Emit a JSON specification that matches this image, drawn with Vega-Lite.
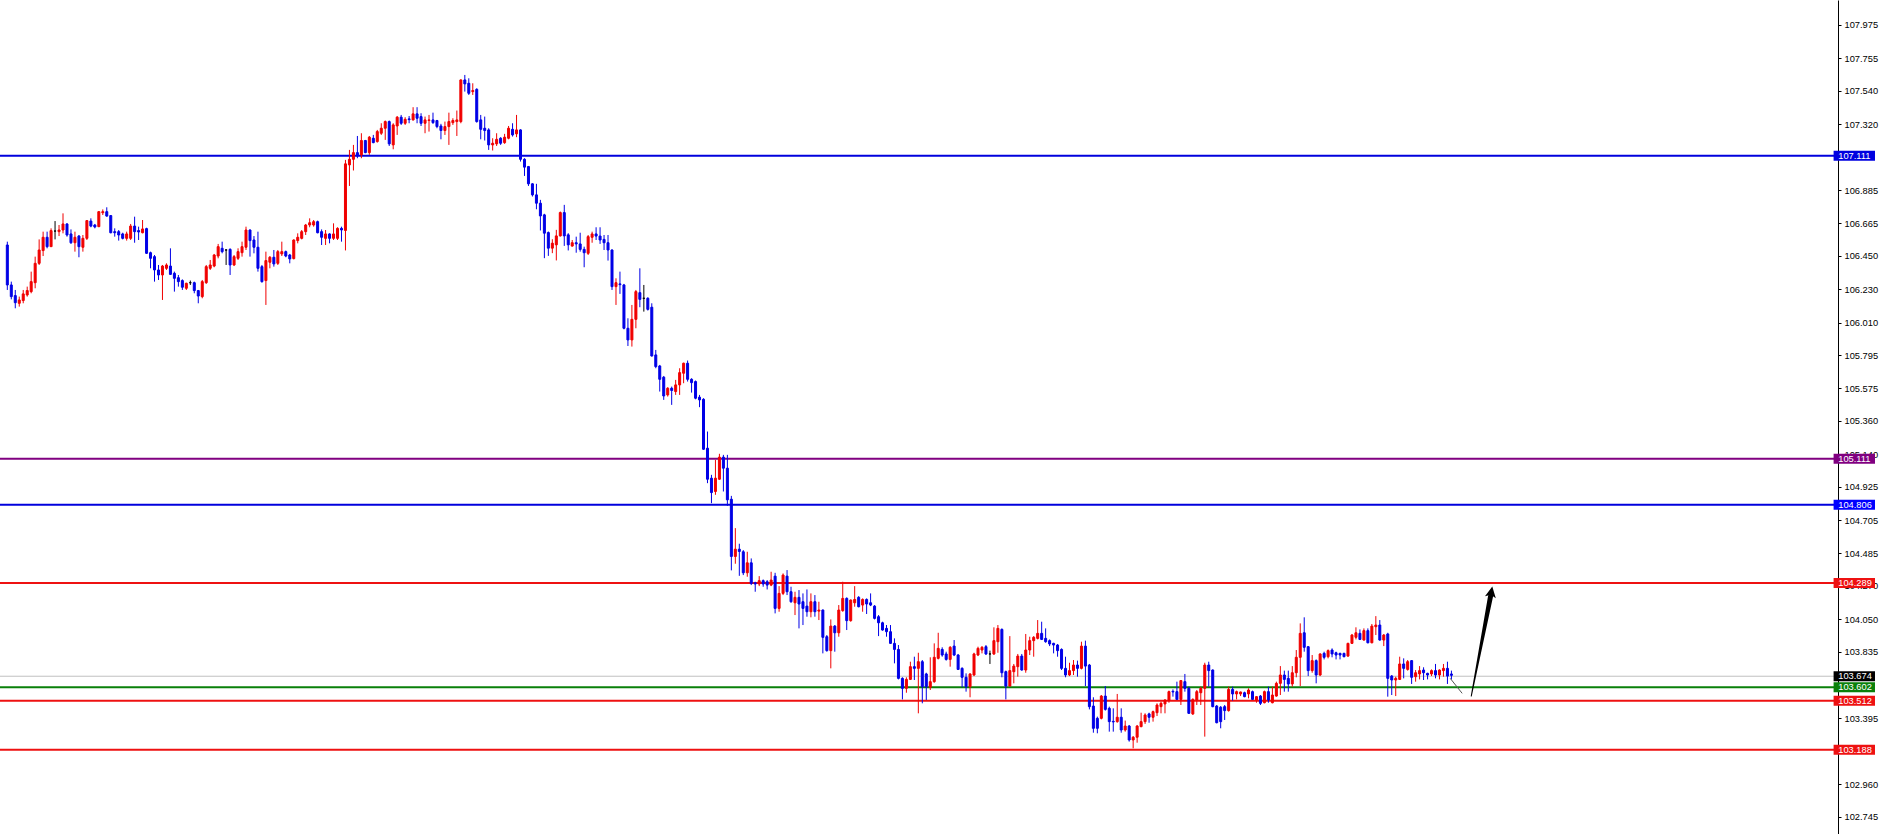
{
"$schema": "https://vega.github.io/schema/vega-lite/v6.json",
"width": 1838, "height": 834,
"autosize": {"type": "none"},
"padding": {"left": 0, "top": 0, "right": 42, "bottom": 0},
"background": "#ffffff",
"config": {"view": {"stroke": null},
"axisY": {"orient": "right", "title": null, "grid": false, "format": ".3f",
"labelFont": "Liberation Sans", "labelFontSize": 9.3, "labelColor": "#000000",
"tickColor": "#000000", "tickSize": 3, "labelPadding": 3, "domainColor": "#000000", "domainWidth": 1,
"labelOverlap": false, "labelFlush": false, "labelBound": false}},
"datasets": {
"candles": [
{"i":0,"o":106.522,"h":106.544,"l":106.225,"c":106.258},
{"i":1,"o":106.258,"h":106.280,"l":106.163,"c":106.181},
{"i":2,"o":106.188,"h":106.225,"l":106.104,"c":106.141},
{"i":3,"o":106.137,"h":106.181,"l":106.115,"c":106.159},
{"i":4,"o":106.155,"h":106.225,"l":106.137,"c":106.199},
{"i":5,"o":106.192,"h":106.247,"l":106.181,"c":106.221},
{"i":6,"o":106.214,"h":106.346,"l":106.203,"c":106.280},
{"i":7,"o":106.273,"h":106.445,"l":106.236,"c":106.401},
{"i":8,"o":106.401,"h":106.559,"l":106.390,"c":106.489},
{"i":9,"o":106.485,"h":106.610,"l":106.449,"c":106.573},
{"i":10,"o":106.573,"h":106.610,"l":106.500,"c":106.511},
{"i":11,"o":106.511,"h":106.632,"l":106.511,"c":106.617},
{"i":12,"o":106.614,"h":106.680,"l":106.559,"c":106.614},
{"i":13,"o":106.610,"h":106.654,"l":106.581,"c":106.621},
{"i":14,"o":106.621,"h":106.731,"l":106.599,"c":106.661},
{"i":15,"o":106.661,"h":106.665,"l":106.577,"c":106.588},
{"i":16,"o":106.595,"h":106.625,"l":106.529,"c":106.537},
{"i":17,"o":106.537,"h":106.610,"l":106.478,"c":106.573},
{"i":18,"o":106.581,"h":106.588,"l":106.441,"c":106.511},
{"i":19,"o":106.507,"h":106.588,"l":106.478,"c":106.566},
{"i":20,"o":106.566,"h":106.687,"l":106.555,"c":106.683},
{"i":21,"o":106.680,"h":106.698,"l":106.639,"c":106.647},
{"i":22,"o":106.654,"h":106.661,"l":106.632,"c":106.641},
{"i":23,"o":106.643,"h":106.745,"l":106.640,"c":106.742},
{"i":24,"o":106.735,"h":106.757,"l":106.720,"c":106.742},
{"i":25,"o":106.742,"h":106.771,"l":106.709,"c":106.713},
{"i":26,"o":106.716,"h":106.720,"l":106.599,"c":106.603},
{"i":27,"o":106.610,"h":106.632,"l":106.577,"c":106.603},
{"i":28,"o":106.610,"h":106.621,"l":106.551,"c":106.588},
{"i":29,"o":106.595,"h":106.603,"l":106.559,"c":106.566},
{"i":30,"o":106.566,"h":106.610,"l":106.551,"c":106.595},
{"i":31,"o":106.566,"h":106.661,"l":106.555,"c":106.647},
{"i":32,"o":106.647,"h":106.709,"l":106.537,"c":106.610},
{"i":33,"o":106.617,"h":106.643,"l":106.555,"c":106.608},
{"i":34,"o":106.603,"h":106.687,"l":106.599,"c":106.628},
{"i":35,"o":106.630,"h":106.636,"l":106.463,"c":106.467},
{"i":36,"o":106.471,"h":106.478,"l":106.368,"c":106.434},
{"i":37,"o":106.445,"h":106.456,"l":106.280,"c":106.357},
{"i":38,"o":106.357,"h":106.390,"l":106.291,"c":106.324},
{"i":39,"o":106.324,"h":106.390,"l":106.159,"c":106.383},
{"i":40,"o":106.368,"h":106.401,"l":106.357,"c":106.390},
{"i":41,"o":106.383,"h":106.500,"l":106.324,"c":106.328},
{"i":42,"o":106.335,"h":106.346,"l":106.214,"c":106.302},
{"i":43,"o":106.306,"h":106.324,"l":106.247,"c":106.280},
{"i":44,"o":106.287,"h":106.295,"l":106.225,"c":106.243},
{"i":45,"o":106.236,"h":106.273,"l":106.225,"c":106.269},
{"i":46,"o":106.273,"h":106.287,"l":106.258,"c":106.273},
{"i":47,"o":106.273,"h":106.280,"l":106.203,"c":106.221},
{"i":48,"o":106.221,"h":106.225,"l":106.137,"c":106.185},
{"i":49,"o":106.181,"h":106.291,"l":106.170,"c":106.280},
{"i":50,"o":106.273,"h":106.390,"l":106.265,"c":106.379},
{"i":51,"o":106.368,"h":106.423,"l":106.357,"c":106.390},
{"i":52,"o":106.383,"h":106.463,"l":106.375,"c":106.456},
{"i":53,"o":106.449,"h":106.529,"l":106.434,"c":106.511},
{"i":54,"o":106.500,"h":106.544,"l":106.467,"c":106.478},
{"i":55,"o":106.489,"h":106.493,"l":106.390,"c":106.489},
{"i":56,"o":106.493,"h":106.500,"l":106.324,"c":106.390},
{"i":57,"o":106.390,"h":106.456,"l":106.383,"c":106.445},
{"i":58,"o":106.434,"h":106.500,"l":106.423,"c":106.478},
{"i":59,"o":106.471,"h":106.544,"l":106.445,"c":106.511},
{"i":60,"o":106.507,"h":106.643,"l":106.489,"c":106.621},
{"i":61,"o":106.621,"h":106.625,"l":106.445,"c":106.551},
{"i":62,"o":106.555,"h":106.581,"l":106.467,"c":106.507},
{"i":63,"o":106.507,"h":106.610,"l":106.346,"c":106.368},
{"i":64,"o":106.379,"h":106.390,"l":106.273,"c":106.280},
{"i":65,"o":106.287,"h":106.478,"l":106.126,"c":106.419},
{"i":66,"o":106.408,"h":106.449,"l":106.368,"c":106.441},
{"i":67,"o":106.441,"h":106.489,"l":106.379,"c":106.397},
{"i":68,"o":106.401,"h":106.489,"l":106.390,"c":106.478},
{"i":69,"o":106.463,"h":106.544,"l":106.449,"c":106.478},
{"i":70,"o":106.478,"h":106.485,"l":106.441,"c":106.449},
{"i":71,"o":106.456,"h":106.463,"l":106.401,"c":106.430},
{"i":72,"o":106.432,"h":106.559,"l":106.427,"c":106.555},
{"i":73,"o":106.551,"h":106.599,"l":106.533,"c":106.573},
{"i":74,"o":106.566,"h":106.621,"l":106.559,"c":106.610},
{"i":75,"o":106.610,"h":106.661,"l":106.588,"c":106.654},
{"i":76,"o":106.654,"h":106.698,"l":106.639,"c":106.669},
{"i":77,"o":106.654,"h":106.687,"l":106.643,"c":106.676},
{"i":78,"o":106.676,"h":106.683,"l":106.599,"c":106.603},
{"i":79,"o":106.610,"h":106.625,"l":106.522,"c":106.573},
{"i":80,"o":106.566,"h":106.621,"l":106.522,"c":106.595},
{"i":81,"o":106.595,"h":106.599,"l":106.533,"c":106.566},
{"i":82,"o":106.566,"h":106.665,"l":106.555,"c":106.595},
{"i":83,"o":106.566,"h":106.639,"l":106.555,"c":106.632},
{"i":84,"o":106.632,"h":106.643,"l":106.544,"c":106.621},
{"i":85,"o":106.618,"h":107.084,"l":106.486,"c":107.058},
{"i":86,"o":107.051,"h":107.150,"l":106.912,"c":107.088},
{"i":87,"o":107.088,"h":107.183,"l":107.014,"c":107.132},
{"i":88,"o":107.132,"h":107.242,"l":107.095,"c":107.110},
{"i":89,"o":107.117,"h":107.260,"l":107.095,"c":107.212},
{"i":90,"o":107.212,"h":107.216,"l":107.128,"c":107.132},
{"i":91,"o":107.132,"h":107.242,"l":107.117,"c":107.234},
{"i":92,"o":107.227,"h":107.249,"l":107.194,"c":107.198},
{"i":93,"o":107.205,"h":107.282,"l":107.198,"c":107.271},
{"i":94,"o":107.260,"h":107.326,"l":107.249,"c":107.293},
{"i":95,"o":107.293,"h":107.344,"l":107.216,"c":107.337},
{"i":96,"o":107.337,"h":107.344,"l":107.176,"c":107.190},
{"i":97,"o":107.183,"h":107.326,"l":107.154,"c":107.315},
{"i":98,"o":107.308,"h":107.374,"l":107.249,"c":107.366},
{"i":99,"o":107.366,"h":107.381,"l":107.315,"c":107.326},
{"i":100,"o":107.326,"h":107.366,"l":107.315,"c":107.352},
{"i":101,"o":107.355,"h":107.374,"l":107.326,"c":107.350},
{"i":102,"o":107.348,"h":107.432,"l":107.344,"c":107.388},
{"i":103,"o":107.388,"h":107.432,"l":107.326,"c":107.359},
{"i":104,"o":107.370,"h":107.392,"l":107.308,"c":107.326},
{"i":105,"o":107.326,"h":107.370,"l":107.260,"c":107.348},
{"i":106,"o":107.344,"h":107.381,"l":107.271,"c":107.348},
{"i":107,"o":107.348,"h":107.396,"l":107.322,"c":107.330},
{"i":108,"o":107.344,"h":107.348,"l":107.293,"c":107.304},
{"i":109,"o":107.308,"h":107.322,"l":107.220,"c":107.278},
{"i":110,"o":107.278,"h":107.337,"l":107.249,"c":107.304},
{"i":111,"o":107.304,"h":107.396,"l":107.183,"c":107.337},
{"i":112,"o":107.330,"h":107.359,"l":107.315,"c":107.344},
{"i":113,"o":107.337,"h":107.410,"l":107.242,"c":107.348},
{"i":114,"o":107.337,"h":107.616,"l":107.326,"c":107.612},
{"i":115,"o":107.612,"h":107.645,"l":107.535,"c":107.586},
{"i":116,"o":107.590,"h":107.623,"l":107.513,"c":107.524},
{"i":117,"o":107.535,"h":107.590,"l":107.513,"c":107.542},
{"i":118,"o":107.550,"h":107.557,"l":107.330,"c":107.337},
{"i":119,"o":107.348,"h":107.381,"l":107.220,"c":107.286},
{"i":120,"o":107.293,"h":107.370,"l":107.212,"c":107.278},
{"i":121,"o":107.282,"h":107.293,"l":107.150,"c":107.183},
{"i":122,"o":107.183,"h":107.227,"l":107.146,"c":107.194},
{"i":123,"o":107.190,"h":107.260,"l":107.176,"c":107.220},
{"i":124,"o":107.227,"h":107.234,"l":107.183,"c":107.194},
{"i":125,"o":107.198,"h":107.256,"l":107.190,"c":107.234},
{"i":126,"o":107.227,"h":107.308,"l":107.220,"c":107.293},
{"i":127,"o":107.286,"h":107.326,"l":107.238,"c":107.249},
{"i":128,"o":107.256,"h":107.381,"l":107.234,"c":107.282},
{"i":129,"o":107.282,"h":107.286,"l":107.073,"c":107.088},
{"i":130,"o":107.088,"h":107.095,"l":106.978,"c":107.036},
{"i":131,"o":107.040,"h":107.044,"l":106.912,"c":106.926},
{"i":132,"o":106.926,"h":106.930,"l":106.842,"c":106.853},
{"i":133,"o":106.853,"h":106.926,"l":106.758,"c":106.798},
{"i":134,"o":106.798,"h":106.820,"l":106.618,"c":106.714},
{"i":135,"o":106.721,"h":106.728,"l":106.435,"c":106.600},
{"i":136,"o":106.604,"h":106.611,"l":106.450,"c":106.501},
{"i":137,"o":106.501,"h":106.560,"l":106.468,"c":106.534},
{"i":138,"o":106.523,"h":106.622,"l":106.420,"c":106.582},
{"i":139,"o":106.582,"h":106.743,"l":106.578,"c":106.736},
{"i":140,"o":106.736,"h":106.787,"l":106.516,"c":106.582},
{"i":141,"o":106.589,"h":106.600,"l":106.486,"c":106.523},
{"i":142,"o":106.515,"h":106.555,"l":106.511,"c":106.537},
{"i":143,"o":106.537,"h":106.577,"l":106.471,"c":106.529},
{"i":144,"o":106.529,"h":106.603,"l":106.478,"c":106.493},
{"i":145,"o":106.493,"h":106.511,"l":106.375,"c":106.471},
{"i":146,"o":106.467,"h":106.588,"l":106.456,"c":106.577},
{"i":147,"o":106.573,"h":106.610,"l":106.537,"c":106.595},
{"i":148,"o":106.595,"h":106.639,"l":106.555,"c":106.581},
{"i":149,"o":106.581,"h":106.639,"l":106.529,"c":106.555},
{"i":150,"o":106.559,"h":106.588,"l":106.489,"c":106.537},
{"i":151,"o":106.537,"h":106.588,"l":106.419,"c":106.489},
{"i":152,"o":106.489,"h":106.493,"l":106.225,"c":106.247},
{"i":153,"o":106.247,"h":106.302,"l":106.126,"c":106.273},
{"i":154,"o":106.265,"h":106.346,"l":106.199,"c":106.260},
{"i":155,"o":106.258,"h":106.265,"l":105.965,"c":105.972},
{"i":156,"o":105.972,"h":106.038,"l":105.855,"c":105.895},
{"i":157,"o":105.895,"h":106.126,"l":105.851,"c":106.031},
{"i":158,"o":106.031,"h":106.225,"l":105.972,"c":106.214},
{"i":159,"o":106.207,"h":106.368,"l":106.111,"c":106.163},
{"i":160,"o":106.170,"h":106.258,"l":106.082,"c":106.170},
{"i":161,"o":106.170,"h":106.177,"l":106.089,"c":106.097},
{"i":162,"o":106.111,"h":106.137,"l":105.785,"c":105.789},
{"i":163,"o":105.796,"h":105.829,"l":105.708,"c":105.719},
{"i":164,"o":105.723,"h":105.730,"l":105.554,"c":105.635},
{"i":165,"o":105.649,"h":105.657,"l":105.499,"c":105.525},
{"i":166,"o":105.532,"h":105.583,"l":105.521,"c":105.576},
{"i":167,"o":105.576,"h":105.587,"l":105.466,"c":105.561},
{"i":168,"o":105.554,"h":105.631,"l":105.532,"c":105.598},
{"i":169,"o":105.598,"h":105.708,"l":105.532,"c":105.679},
{"i":170,"o":105.675,"h":105.745,"l":105.609,"c":105.741},
{"i":171,"o":105.741,"h":105.759,"l":105.620,"c":105.635},
{"i":172,"o":105.635,"h":105.642,"l":105.547,"c":105.613},
{"i":173,"o":105.620,"h":105.627,"l":105.503,"c":105.510},
{"i":174,"o":105.517,"h":105.532,"l":105.451,"c":105.499},
{"i":175,"o":105.503,"h":105.510,"l":105.169,"c":105.173},
{"i":176,"o":105.180,"h":105.290,"l":104.949,"c":104.975},
{"i":177,"o":104.982,"h":105.004,"l":104.817,"c":104.887},
{"i":178,"o":104.894,"h":105.103,"l":104.872,"c":104.982},
{"i":179,"o":104.975,"h":105.143,"l":104.971,"c":105.121},
{"i":180,"o":105.121,"h":105.136,"l":104.894,"c":105.048},
{"i":181,"o":105.048,"h":105.136,"l":104.799,"c":104.839},
{"i":182,"o":104.843,"h":104.865,"l":104.373,"c":104.465},
{"i":183,"o":104.465,"h":104.652,"l":104.417,"c":104.513},
{"i":184,"o":104.513,"h":104.549,"l":104.337,"c":104.498},
{"i":185,"o":104.496,"h":104.507,"l":104.342,"c":104.357},
{"i":186,"o":104.357,"h":104.496,"l":104.331,"c":104.423},
{"i":187,"o":104.423,"h":104.452,"l":104.276,"c":104.287},
{"i":188,"o":104.291,"h":104.298,"l":104.232,"c":104.283},
{"i":189,"o":104.283,"h":104.335,"l":104.269,"c":104.305},
{"i":190,"o":104.305,"h":104.313,"l":104.265,"c":104.283},
{"i":191,"o":104.298,"h":104.309,"l":104.247,"c":104.276},
{"i":192,"o":104.276,"h":104.364,"l":104.269,"c":104.309},
{"i":193,"o":104.335,"h":104.357,"l":104.089,"c":104.122},
{"i":194,"o":104.122,"h":104.269,"l":104.100,"c":104.221},
{"i":195,"o":104.221,"h":104.353,"l":104.210,"c":104.342},
{"i":196,"o":104.335,"h":104.375,"l":104.210,"c":104.232},
{"i":197,"o":104.232,"h":104.265,"l":104.159,"c":104.166},
{"i":198,"o":104.159,"h":104.232,"l":104.078,"c":104.195},
{"i":199,"o":104.195,"h":104.243,"l":103.990,"c":104.151},
{"i":200,"o":104.166,"h":104.221,"l":104.012,"c":104.122},
{"i":201,"o":104.137,"h":104.247,"l":104.067,"c":104.100},
{"i":202,"o":104.100,"h":104.221,"l":104.063,"c":104.166},
{"i":203,"o":104.166,"h":104.210,"l":104.067,"c":104.100},
{"i":204,"o":104.104,"h":104.166,"l":104.045,"c":104.111},
{"i":205,"o":104.111,"h":104.115,"l":103.825,"c":103.931},
{"i":206,"o":103.935,"h":103.946,"l":103.836,"c":103.843},
{"i":207,"o":103.843,"h":104.049,"l":103.726,"c":104.005},
{"i":208,"o":104.005,"h":104.012,"l":103.836,"c":103.961},
{"i":209,"o":103.961,"h":104.144,"l":103.935,"c":104.111},
{"i":210,"o":104.107,"h":104.298,"l":104.100,"c":104.188},
{"i":211,"o":104.188,"h":104.195,"l":103.979,"c":104.041},
{"i":212,"o":104.041,"h":104.181,"l":104.034,"c":104.177},
{"i":213,"o":104.159,"h":104.269,"l":104.133,"c":104.181},
{"i":214,"o":104.195,"h":104.203,"l":104.129,"c":104.133},
{"i":215,"o":104.144,"h":104.188,"l":104.100,"c":104.181},
{"i":216,"o":104.181,"h":104.188,"l":104.085,"c":104.151},
{"i":217,"o":104.159,"h":104.221,"l":104.137,"c":104.144},
{"i":218,"o":104.137,"h":104.144,"l":104.049,"c":104.056},
{"i":219,"o":104.067,"h":104.078,"l":103.939,"c":104.027},
{"i":220,"o":104.027,"h":104.034,"l":103.975,"c":103.979},
{"i":221,"o":103.990,"h":104.012,"l":103.935,"c":103.968},
{"i":222,"o":103.968,"h":104.012,"l":103.887,"c":103.891},
{"i":223,"o":103.891,"h":103.924,"l":103.759,"c":103.851},
{"i":224,"o":103.851,"h":103.880,"l":103.653,"c":103.660},
{"i":225,"o":103.660,"h":103.667,"l":103.521,"c":103.594},
{"i":226,"o":103.594,"h":103.667,"l":103.565,"c":103.653},
{"i":227,"o":103.653,"h":103.770,"l":103.649,"c":103.737},
{"i":228,"o":103.737,"h":103.803,"l":103.649,"c":103.726},
{"i":229,"o":103.726,"h":103.829,"l":103.429,"c":103.770},
{"i":230,"o":103.770,"h":103.781,"l":103.495,"c":103.605},
{"i":231,"o":103.689,"h":103.697,"l":103.517,"c":103.605},
{"i":232,"o":103.601,"h":103.799,"l":103.583,"c":103.638},
{"i":233,"o":103.638,"h":103.891,"l":103.631,"c":103.799},
{"i":234,"o":103.792,"h":103.961,"l":103.785,"c":103.858},
{"i":235,"o":103.851,"h":103.865,"l":103.803,"c":103.814},
{"i":236,"o":103.821,"h":103.836,"l":103.777,"c":103.785},
{"i":237,"o":103.785,"h":103.873,"l":103.737,"c":103.865},
{"i":238,"o":103.873,"h":103.913,"l":103.807,"c":103.814},
{"i":239,"o":103.814,"h":103.821,"l":103.715,"c":103.719},
{"i":240,"o":103.726,"h":103.733,"l":103.601,"c":103.667},
{"i":241,"o":103.667,"h":103.693,"l":103.572,"c":103.605},
{"i":242,"o":103.605,"h":103.693,"l":103.535,"c":103.689},
{"i":243,"o":103.682,"h":103.829,"l":103.675,"c":103.821},
{"i":244,"o":103.814,"h":103.869,"l":103.807,"c":103.858},
{"i":245,"o":103.847,"h":103.873,"l":103.825,"c":103.865},
{"i":246,"o":103.869,"h":103.880,"l":103.814,"c":103.821},
{"i":247,"o":103.821,"h":103.843,"l":103.755,"c":103.821},
{"i":248,"o":103.821,"h":103.997,"l":103.814,"c":103.909},
{"i":249,"o":103.902,"h":104.012,"l":103.829,"c":103.990},
{"i":250,"o":103.983,"h":103.990,"l":103.667,"c":103.697},
{"i":251,"o":103.704,"h":103.711,"l":103.521,"c":103.609},
{"i":252,"o":103.609,"h":103.939,"l":103.605,"c":103.711},
{"i":253,"o":103.704,"h":103.755,"l":103.627,"c":103.741},
{"i":254,"o":103.737,"h":103.821,"l":103.671,"c":103.807},
{"i":255,"o":103.807,"h":103.821,"l":103.711,"c":103.715},
{"i":256,"o":103.715,"h":103.953,"l":103.697,"c":103.847},
{"i":257,"o":103.847,"h":103.935,"l":103.814,"c":103.909},
{"i":258,"o":103.909,"h":103.939,"l":103.803,"c":103.931},
{"i":259,"o":103.924,"h":104.045,"l":103.917,"c":103.957},
{"i":260,"o":103.957,"h":104.034,"l":103.913,"c":103.917},
{"i":261,"o":103.924,"h":103.990,"l":103.895,"c":103.902},
{"i":262,"o":103.909,"h":103.917,"l":103.873,"c":103.887},
{"i":263,"o":103.891,"h":103.895,"l":103.825,"c":103.880},
{"i":264,"o":103.880,"h":103.887,"l":103.803,"c":103.843},
{"i":265,"o":103.851,"h":103.858,"l":103.715,"c":103.726},
{"i":266,"o":103.726,"h":103.803,"l":103.667,"c":103.682},
{"i":267,"o":103.682,"h":103.763,"l":103.675,"c":103.711},
{"i":268,"o":103.711,"h":103.781,"l":103.682,"c":103.748},
{"i":269,"o":103.748,"h":103.777,"l":103.671,"c":103.726},
{"i":270,"o":103.726,"h":103.902,"l":103.719,"c":103.873},
{"i":271,"o":103.873,"h":103.909,"l":103.609,"c":103.741},
{"i":272,"o":103.748,"h":103.755,"l":103.455,"c":103.473},
{"i":273,"o":103.477,"h":103.535,"l":103.301,"c":103.330},
{"i":274,"o":103.396,"h":103.407,"l":103.297,"c":103.330},
{"i":275,"o":103.396,"h":103.550,"l":103.389,"c":103.543},
{"i":276,"o":103.543,"h":103.609,"l":103.447,"c":103.455},
{"i":277,"o":103.462,"h":103.473,"l":103.308,"c":103.374},
{"i":278,"o":103.376,"h":103.462,"l":103.308,"c":103.372},
{"i":279,"o":103.374,"h":103.557,"l":103.367,"c":103.403},
{"i":280,"o":103.403,"h":103.462,"l":103.301,"c":103.319},
{"i":281,"o":103.319,"h":103.381,"l":103.308,"c":103.345},
{"i":282,"o":103.345,"h":103.352,"l":103.242,"c":103.253},
{"i":283,"o":103.253,"h":103.279,"l":103.198,"c":103.271},
{"i":284,"o":103.271,"h":103.352,"l":103.235,"c":103.345},
{"i":285,"o":103.341,"h":103.433,"l":103.337,"c":103.374},
{"i":286,"o":103.374,"h":103.429,"l":103.359,"c":103.418},
{"i":287,"o":103.425,"h":103.433,"l":103.367,"c":103.403},
{"i":288,"o":103.403,"h":103.447,"l":103.374,"c":103.440},
{"i":289,"o":103.433,"h":103.495,"l":103.411,"c":103.484},
{"i":290,"o":103.473,"h":103.506,"l":103.429,"c":103.495},
{"i":291,"o":103.491,"h":103.521,"l":103.429,"c":103.517},
{"i":292,"o":103.513,"h":103.579,"l":103.499,"c":103.572},
{"i":293,"o":103.574,"h":103.587,"l":103.539,"c":103.570},
{"i":294,"o":103.572,"h":103.638,"l":103.517,"c":103.521},
{"i":295,"o":103.521,"h":103.649,"l":103.484,"c":103.645},
{"i":296,"o":103.638,"h":103.689,"l":103.572,"c":103.594},
{"i":297,"o":103.594,"h":103.605,"l":103.425,"c":103.429},
{"i":298,"o":103.425,"h":103.528,"l":103.418,"c":103.521},
{"i":299,"o":103.517,"h":103.583,"l":103.484,"c":103.572},
{"i":300,"o":103.565,"h":103.605,"l":103.484,"c":103.594},
{"i":301,"o":103.594,"h":103.763,"l":103.275,"c":103.748},
{"i":302,"o":103.748,"h":103.770,"l":103.605,"c":103.711},
{"i":303,"o":103.715,"h":103.719,"l":103.469,"c":103.473},
{"i":304,"o":103.477,"h":103.484,"l":103.363,"c":103.367},
{"i":305,"o":103.469,"h":103.477,"l":103.330,"c":103.374},
{"i":306,"o":103.473,"h":103.484,"l":103.385,"c":103.447},
{"i":307,"o":103.447,"h":103.605,"l":103.440,"c":103.587},
{"i":308,"o":103.587,"h":103.605,"l":103.513,"c":103.557},
{"i":309,"o":103.557,"h":103.579,"l":103.521,"c":103.572},
{"i":310,"o":103.557,"h":103.572,"l":103.543,"c":103.570},
{"i":311,"o":103.565,"h":103.572,"l":103.535,"c":103.539},
{"i":312,"o":103.557,"h":103.594,"l":103.528,"c":103.583},
{"i":313,"o":103.572,"h":103.579,"l":103.517,"c":103.521},
{"i":314,"o":103.517,"h":103.543,"l":103.499,"c":103.539},
{"i":315,"o":103.543,"h":103.550,"l":103.484,"c":103.495},
{"i":316,"o":103.499,"h":103.579,"l":103.495,"c":103.572},
{"i":317,"o":103.572,"h":103.605,"l":103.499,"c":103.517},
{"i":318,"o":103.499,"h":103.605,"l":103.495,"c":103.550},
{"i":319,"o":103.543,"h":103.638,"l":103.539,"c":103.627},
{"i":320,"o":103.627,"h":103.741,"l":103.550,"c":103.682},
{"i":321,"o":103.682,"h":103.711,"l":103.572,"c":103.653},
{"i":322,"o":103.660,"h":103.711,"l":103.572,"c":103.623},
{"i":323,"o":103.623,"h":103.741,"l":103.605,"c":103.697},
{"i":324,"o":103.697,"h":103.847,"l":103.667,"c":103.799},
{"i":325,"o":103.799,"h":104.023,"l":103.609,"c":103.957},
{"i":326,"o":103.961,"h":104.063,"l":103.836,"c":103.865},
{"i":327,"o":103.869,"h":103.873,"l":103.675,"c":103.711},
{"i":328,"o":103.711,"h":103.814,"l":103.697,"c":103.777},
{"i":329,"o":103.777,"h":103.785,"l":103.627,"c":103.682},
{"i":330,"o":103.682,"h":103.825,"l":103.675,"c":103.821},
{"i":331,"o":103.825,"h":103.836,"l":103.785,"c":103.799},
{"i":332,"o":103.803,"h":103.851,"l":103.792,"c":103.843},
{"i":333,"o":103.847,"h":103.858,"l":103.799,"c":103.821},
{"i":334,"o":103.829,"h":103.836,"l":103.785,"c":103.814},
{"i":335,"o":103.825,"h":103.829,"l":103.785,"c":103.814},
{"i":336,"o":103.825,"h":103.829,"l":103.799,"c":103.803},
{"i":337,"o":103.807,"h":103.895,"l":103.803,"c":103.891},
{"i":338,"o":103.891,"h":103.953,"l":103.887,"c":103.946},
{"i":339,"o":103.931,"h":103.997,"l":103.917,"c":103.961},
{"i":340,"o":103.957,"h":103.983,"l":103.913,"c":103.917},
{"i":341,"o":103.913,"h":103.990,"l":103.909,"c":103.975},
{"i":342,"o":103.975,"h":103.990,"l":103.891,"c":103.895},
{"i":343,"o":103.895,"h":104.019,"l":103.891,"c":104.005},
{"i":344,"o":104.001,"h":104.071,"l":103.946,"c":104.012},
{"i":345,"o":104.012,"h":104.045,"l":103.909,"c":103.913},
{"i":346,"o":103.913,"h":103.953,"l":103.873,"c":103.946},
{"i":347,"o":103.953,"h":103.961,"l":103.539,"c":103.660},
{"i":348,"o":103.675,"h":103.682,"l":103.550,"c":103.649},
{"i":349,"o":103.649,"h":103.671,"l":103.543,"c":103.660},
{"i":350,"o":103.653,"h":103.803,"l":103.649,"c":103.755},
{"i":351,"o":103.755,"h":103.792,"l":103.660,"c":103.726},
{"i":352,"o":103.719,"h":103.781,"l":103.711,"c":103.770},
{"i":353,"o":103.777,"h":103.781,"l":103.623,"c":103.667},
{"i":354,"o":103.671,"h":103.715,"l":103.638,"c":103.697},
{"i":355,"o":103.689,"h":103.741,"l":103.653,"c":103.711},
{"i":356,"o":103.715,"h":103.733,"l":103.649,"c":103.697},
{"i":357,"o":103.693,"h":103.697,"l":103.653,"c":103.682},
{"i":358,"o":103.689,"h":103.719,"l":103.675,"c":103.711},
{"i":359,"o":103.711,"h":103.755,"l":103.660,"c":103.682},
{"i":360,"o":103.682,"h":103.719,"l":103.653,"c":103.715},
{"i":361,"o":103.711,"h":103.755,"l":103.671,"c":103.726},
{"i":362,"o":103.726,"h":103.770,"l":103.623,"c":103.675},
{"i":363,"o":103.689,"h":103.711,"l":103.653,"c":103.680}
],
"levels": [
{"level":107.111,"name":"r1"},
{"level":105.111,"name":"r2"},
{"level":104.806,"name":"r3"},
{"level":104.289,"name":"r4"},
{"level":103.674,"name":"bid"},
{"level":103.602,"name":"s1"},
{"level":103.512,"name":"s2"},
{"level":103.188,"name":"s3"}
],
"tail": [{"x1":362.7,"y1":103.660,"x2":365.7,"y2":103.561}],
"arrow": [{"ax":367.99,"ay":103.543,"t":0},{"ax":372.84,"ay":104.202,"t":1}],
"head": [{"ax":372.84,"ay":104.202}]
},
"layer": [
{
"data": {"name": "levels"},
"mark": {"type": "rule"},
"encoding": {
"y": {"field": "level", "type": "quantitative",
"scale": {"domain": [102.632, 108.140], "nice": false, "zero": false},
"axis": {"values": [107.975,107.755,107.540,107.320,106.885,106.665,106.450,106.230,106.010,105.795,105.575,105.360,105.140,104.925,104.705,104.485,104.270,104.050,103.835,103.395,102.960,102.745]}},
"color": {"field": "name", "type": "nominal", "legend": null,
"scale": {"domain": ["r1","r2","r3","r4","bid","s1","s2","s3"],
"range": ["#0000dd","#800080","#0000dd","#ee1111","#c0c0c0","#0a800a","#ee1111","#ee1111"]}},
"strokeWidth": {"condition": {"test": "datum.name === 'bid'", "value": 1}, "value": 2}
}
},
{
"data": {"name": "candles"},
"mark": {"type": "rule", "strokeWidth": 1},
"encoding": {
"x": {"field": "i", "type": "quantitative", "scale": {"domain": [-0.5825, 458.9175], "nice": false, "zero": false}, "axis": null},
"y": {"field": "l", "type": "quantitative", "scale": {"domain": [102.632, 108.140], "nice": false, "zero": false},
"axis": {"values": [107.975,107.755,107.540,107.320,106.885,106.665,106.450,106.230,106.010,105.795,105.575,105.360,105.140,104.925,104.705,104.485,104.270,104.050,103.835,103.395,102.960,102.745]}},
"y2": {"field": "h"},
"stroke": {"condition": [{"test": "datum.c > datum.o", "value": "#f00000"}, {"test": "datum.c < datum.o", "value": "#0000e6"}], "value": "#000000"}
}
},
{
"data": {"name": "candles"},
"mark": {"type": "bar", "width": 2, "strokeWidth": 1},
"encoding": {
"x": {"field": "i", "type": "quantitative", "scale": {"domain": [-0.5825, 458.9175], "nice": false, "zero": false}, "axis": null},
"y": {"field": "o", "type": "quantitative", "scale": {"domain": [102.632, 108.140], "nice": false, "zero": false},
"axis": {"values": [107.975,107.755,107.540,107.320,106.885,106.665,106.450,106.230,106.010,105.795,105.575,105.360,105.140,104.925,104.705,104.485,104.270,104.050,103.835,103.395,102.960,102.745]}},
"y2": {"field": "c"},
"fill": {"condition": [{"test": "datum.c > datum.o", "value": "#f00000"}, {"test": "datum.c < datum.o", "value": "#0000e6"}], "value": "#000000"},
"stroke": {"condition": [{"test": "datum.c > datum.o", "value": "#f00000"}, {"test": "datum.c < datum.o", "value": "#0000e6"}], "value": "#000000"}
}
},
{
"data": {"name": "tail"},
"mark": {"type": "rule", "color": "#555555", "strokeWidth": 1},
"encoding": {
"x": {"field": "x1", "type": "quantitative", "scale": {"domain": [-0.5825, 458.9175], "nice": false, "zero": false}, "axis": null},
"y": {"field": "y1", "type": "quantitative", "scale": {"domain": [102.632, 108.140], "nice": false, "zero": false},
"axis": {"values": [107.975,107.755,107.540,107.320,106.885,106.665,106.450,106.230,106.010,105.795,105.575,105.360,105.140,104.925,104.705,104.485,104.270,104.050,103.835,103.395,102.960,102.745]}},
"x2": {"field": "x2"},
"y2": {"field": "y2"}
}
},
{
"data": {"name": "arrow"},
"mark": {"type": "trail", "color": "#000000"},
"encoding": {
"x": {"field": "ax", "type": "quantitative", "scale": {"domain": [-0.5825, 458.9175], "nice": false, "zero": false}, "axis": null},
"y": {"field": "ay", "type": "quantitative", "scale": {"domain": [102.632, 108.140], "nice": false, "zero": false},
"axis": {"values": [107.975,107.755,107.540,107.320,106.885,106.665,106.450,106.230,106.010,105.795,105.575,105.360,105.140,104.925,104.705,104.485,104.270,104.050,103.835,103.395,102.960,102.745]}},
"size": {"field": "t", "type": "quantitative", "scale": {"domain": [0, 1], "range": [1, 5]}, "legend": null},
"order": {"field": "t"}
}
},
{
"data": {"name": "head"},
"mark": {"type": "point", "shape": "M0,-1L0.55,0.1L0,-0.15L-0.55,0.1Z", "filled": true, "size": 400, "angle": 10, "color": "#000000", "opacity": 1},
"encoding": {
"x": {"field": "ax", "type": "quantitative", "scale": {"domain": [-0.5825, 458.9175], "nice": false, "zero": false}, "axis": null},
"y": {"field": "ay", "type": "quantitative", "scale": {"domain": [102.632, 108.140], "nice": false, "zero": false},
"axis": {"values": [107.975,107.755,107.540,107.320,106.885,106.665,106.450,106.230,106.010,105.795,105.575,105.360,105.140,104.925,104.705,104.485,104.270,104.050,103.835,103.395,102.960,102.745]}}
}
},
{
"data": {"name": "levels"},
"mark": {"type": "point", "shape": "M-2.07,-0.5H2.07V0.5H-2.07Z", "filled": true, "size": 400, "opacity": 1, "strokeWidth": 0},
"encoding": {
"x": {"datum": 464.27, "type": "quantitative", "scale": {"domain": [-0.5825, 458.9175], "nice": false, "zero": false}, "axis": null},
"y": {"field": "level", "type": "quantitative", "scale": {"domain": [102.632, 108.140], "nice": false, "zero": false},
"axis": {"values": [107.975,107.755,107.540,107.320,106.885,106.665,106.450,106.230,106.010,105.795,105.575,105.360,105.140,104.925,104.705,104.485,104.270,104.050,103.835,103.395,102.960,102.745]}},
"fill": {"field": "name", "type": "nominal", "legend": null,
"scale": {"domain": ["r1","r2","r3","r4","bid","s1","s2","s3"],
"range": ["#0000e0","#800080","#0000ff","#ee1111","#000000","#0a800a","#ee1111","#ee1111"]}}
}
},
{
"data": {"name": "levels"},
"mark": {"type": "text", "align": "left", "baseline": "middle", "font": "Liberation Sans", "fontSize": 9.3, "color": "#ffffff"},
"encoding": {
"x": {"datum": 460.24, "type": "quantitative", "scale": {"domain": [-0.5825, 458.9175], "nice": false, "zero": false}, "axis": null},
"y": {"field": "level", "type": "quantitative", "scale": {"domain": [102.632, 108.140], "nice": false, "zero": false},
"axis": {"values": [107.975,107.755,107.540,107.320,106.885,106.665,106.450,106.230,106.010,105.795,105.575,105.360,105.140,104.925,104.705,104.485,104.270,104.050,103.835,103.395,102.960,102.745]}},
"text": {"field": "level", "type": "quantitative", "format": ".3f"}
}
}
],
"resolve": {"scale": {"color": "independent", "fill": "independent", "size": "independent"}}
}
